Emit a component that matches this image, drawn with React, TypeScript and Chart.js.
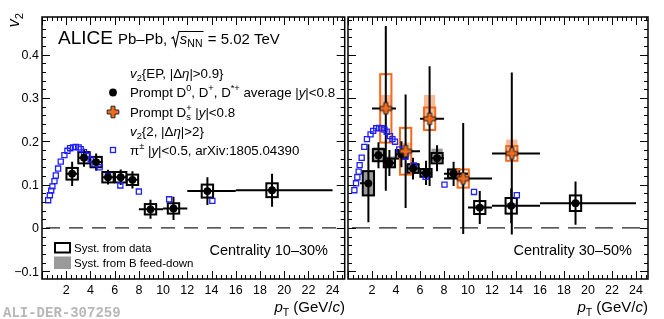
import React, { useEffect, useRef } from "react";
import { Chart, registerables } from "chart.js";
Chart.register(...registerables);

const FONT = '"Liberation Sans", Arial, Helvetica, sans-serif';
const MONO = '"Liberation Mono", "DejaVu Sans Mono", monospace';
const ORANGE = "#f26a1b";
const ORANGE_FILL = "rgba(245,120,50,0.5)";
const GRAY_FILL = "#9a9a9a";
const BLUE = "#1f1fff";

// ---------- axes ----------
const X_MIN = 0;
const X_MAX = 25;
const Y_MIN = -0.118;
const Y_MAX = 0.487;
const X_TICKS = [2, 4, 6, 8, 10, 12, 14, 16, 18, 20, 22, 24];
const X_TICK_LABELS = ["2", "4", "6", "8", "10", "12", "14", "16", "18", "20", "22", "24"];
const Y_TICKS = [-0.1, 0, 0.1, 0.2, 0.3, 0.4];
const Y_TICK_LABELS = ["\u22120.1", "0", "0.1", "0.2", "0.3", "0.4"];

// ---------- Centrality 10-30% ----------
const D1030_PT = [2.49, 3.47, 4.47, 5.45, 6.5, 7.47, 8.96, 10.86, 13.66, 19.0];
const D1030_PT_LOW = [2, 3, 4, 5, 6, 7, 8, 10, 12, 16];
const D1030_PT_HIGH = [3, 4, 5, 6, 7, 8, 10, 12, 16, 24];
const D1030_V2 = [0.125, 0.162, 0.152, 0.117, 0.117, 0.111, 0.043, 0.045, 0.085, 0.087];
const D1030_STAT = [0.028, 0.021, 0.02, 0.017, 0.018, 0.02, 0.022, 0.027, 0.032, 0.038];
const D1030_SYST = [0.0135, 0.013, 0.012, 0.012, 0.012, 0.012, 0.012, 0.012, 0.015, 0.016];

const PI1030_PT = [0.51, 0.65, 0.76, 0.86, 1.03, 1.14, 1.33, 1.55, 1.85, 2.1, 2.32, 2.57, 2.79, 3.03, 3.2, 3.47, 3.75, 4.02, 4.35, 4.76, 5.45, 6.47, 8.0, 10.5, 14.07];
const PI1030_V2 = [0.064, 0.0755, 0.086, 0.096, 0.108, 0.121, 0.137, 0.153, 0.168, 0.178, 0.184, 0.186, 0.187, 0.186, 0.182, 0.175, 0.167, 0.158, 0.148, 0.14, 0.12, 0.098, 0.084, 0.066, 0.0625];

// ---------- Centrality 30-50% ----------
const D3050_PT = [1.7, 2.54, 3.45, 4.45, 5.42, 6.5, 7.42, 8.8, 10.98, 13.6, 18.96];
const D3050_PT_LOW = [1, 2, 3, 4, 5, 6, 7, 8, 10, 12, 16];
const D3050_PT_HIGH = [2, 3, 4, 5, 6, 7, 8, 10, 12, 16, 24];
const D3050_V2 = [0.103, 0.168, 0.15, 0.17, 0.137, 0.127, 0.161, 0.125, 0.047, 0.051, 0.057];
const D3050_STAT = [0.09, 0.03, 0.03, 0.03, 0.025, 0.028, 0.03, 0.028, 0.038, 0.04, 0.05];
const D3050_SYST = [0.028, 0.014, 0.01, 0.01, 0.01, 0.009, 0.012, 0.01, 0.015, 0.018, 0.018];
const D3050_FD_LOW = [0.028, 0.016, 0.012, 0.01, 0.01, 0.008, 0.01, 0.008, 0.004, 0.004, 0.003];
const D3050_FD_HIGH = [0.03, 0.018, 0.015, 0.012, 0.012, 0.01, 0.022, 0.012, 0.006, 0.006, 0.004];

const DS3050_PT = [3.15, 4.8, 6.8, 9.6, 13.65];
const DS3050_PT_LOW = [2, 4, 6, 8, 12];
const DS3050_PT_HIGH = [4, 6, 8, 12, 16];
const DS3050_V2 = [0.276, 0.177, 0.252, 0.114, 0.172];
const DS3050_STAT_LOW = [0.19, 0.131, 0.155, 0.128, 0.187];
const DS3050_STAT_HIGH = [0.19, 0.131, 0.121, 0.128, 0.187];
const DS3050_SYST = [0.079, 0.054, 0.026, 0.021, 0.017];
const DS3050_FD_LOW = [0.01, 0.012, 0.005, 0.01, 0.008];
const DS3050_FD_HIGH = [0.031, 0.02, 0.055, 0.015, 0.032];

const PI3050_PT = [0.53, 0.67, 0.78, 0.89, 0.97, 1.14, 1.36, 1.58, 1.88, 2.1, 2.35, 2.6, 2.81, 3.04, 3.23, 3.5, 3.7, 3.92, 4.27, 4.8, 5.49, 6.47, 8.04, 10.5, 14.07];
const PI3050_V2 = [0.087, 0.103, 0.117, 0.13, 0.145, 0.162, 0.187, 0.205, 0.216, 0.224, 0.23, 0.231, 0.23, 0.227, 0.222, 0.212, 0.205, 0.199, 0.181, 0.165, 0.144, 0.118, 0.1, 0.083, 0.0755];

// ---------- text helpers ----------
type Seg = { t: string; i?: boolean; sub?: boolean; sup?: boolean; stackSup?: string; stackSub?: string };

function fnt(size: number, italic = false) {
  return `${italic ? "italic " : ""}${size}px ${FONT}`;
}

function measureSegs(ctx: CanvasRenderingContext2D, segs: Seg[], size: number) {
  return segs.map((s) => {
    if (s.stackSup !== undefined) {
      ctx.font = fnt(size * 0.7);
      return Math.max(ctx.measureText(s.stackSup).width, ctx.measureText(s.stackSub || "").width);
    }
    ctx.font = fnt(s.sub || s.sup ? size * 0.7 : size, s.i);
    return ctx.measureText(s.t).width;
  });
}

function drawRich(ctx: CanvasRenderingContext2D, segs: Seg[], x: number, baseline: number, size: number, align = "left", color = "#000") {
  const ws = measureSegs(ctx, segs, size);
  const total = ws.reduce((a, b) => a + b, 0);
  let cx = align === "right" ? x - total : align === "center" ? x - total / 2 : x;
  ctx.fillStyle = color;
  ctx.textAlign = "left";
  ctx.textBaseline = "alphabetic";
  segs.forEach((s, k) => {
    if (s.stackSup !== undefined) {
      ctx.font = fnt(size * 0.7);
      ctx.fillText(s.stackSup, cx, baseline - size * 0.42);
      ctx.fillText(s.stackSub || "", cx, baseline + size * 0.25);
    } else {
      ctx.font = fnt(s.sub || s.sup ? size * 0.7 : size, s.i);
      const dy = s.sub ? size * 0.25 : s.sup ? -size * 0.42 : 0;
      ctx.fillText(s.t, cx, baseline + dy);
    }
    cx += ws[k];
  });
  return total;
}

function makeCross(): HTMLCanvasElement {
  const c = document.createElement("canvas");
  c.width = 14;
  c.height = 14;
  const g = c.getContext("2d")!;
  const cx = 7, cy = 7, L = 5.8, T = 2.0;
  g.beginPath();
  g.moveTo(cx - T, cy - L); g.lineTo(cx + T, cy - L); g.lineTo(cx + T, cy - T); g.lineTo(cx + L, cy - T);
  g.lineTo(cx + L, cy + T); g.lineTo(cx + T, cy + T); g.lineTo(cx + T, cy + L); g.lineTo(cx - T, cy + L);
  g.lineTo(cx - T, cy + T); g.lineTo(cx - L, cy + T); g.lineTo(cx - L, cy - T); g.lineTo(cx - T, cy - T);
  g.closePath();
  g.fillStyle = ORANGE;
  g.fill();
  g.strokeStyle = "#222";
  g.lineWidth = 1;
  g.stroke();
  return c;
}

type Series = {
  pt: number[]; lo: number[]; hi: number[]; v2: number[];
  statLo: number[]; statHi: number[]; syst: number[];
  fdLo?: number[]; fdHi?: number[];
};

type PanelDef = {
  offsetX: number;
  width: number;
  padding: { left: number; right: number; top: number; bottom: number };
  d: Series;
  ds?: Series;
  piPt: number[];
  piV2: number[];
  showY: boolean;
  main: boolean;
  centrality: string;
  centralityRight: number;
  titleRight: number;
  dash: number[];
};

const BOX_HW = 0.47;

function makePlugin(P: PanelDef, cross: HTMLCanvasElement) {
  return {
    id: "panel",
    beforeDatasetsDraw(chart: any) {
      const { ctx, chartArea: a, scales } = chart;
      const x = scales.x, y = scales.y;
      ctx.save();
      ctx.beginPath();
      ctx.rect(a.left, a.top, a.right - a.left, a.bottom - a.top);
      ctx.clip();
      // zero line
      ctx.strokeStyle = "#222";
      ctx.lineWidth = 1.2;
      ctx.setLineDash(P.dash);
      ctx.beginPath();
      const y0 = y.getPixelForValue(0);
      ctx.moveTo(a.left + 4, y0);
      ctx.lineTo(a.right, y0);
      ctx.stroke();
      ctx.setLineDash([]);

      const boxes = (S: Series, fdFill: string | null, stroke: string) => {
        S.pt.forEach((p, k) => {
          const xl = x.getPixelForValue(p - BOX_HW), xr = x.getPixelForValue(p + BOX_HW);
          if (fdFill && S.fdLo && S.fdHi) {
            const yt = y.getPixelForValue(S.v2[k] + S.fdHi[k]);
            const yb = y.getPixelForValue(S.v2[k] - S.fdLo[k]);
            ctx.fillStyle = fdFill;
            ctx.fillRect(xl, yt, xr - xl, yb - yt);
          }
        });
        S.pt.forEach((p, k) => {
          const xl = x.getPixelForValue(p - BOX_HW), xr = x.getPixelForValue(p + BOX_HW);
          const yt = y.getPixelForValue(S.v2[k] + S.syst[k]);
          const yb = y.getPixelForValue(S.v2[k] - S.syst[k]);
          ctx.strokeStyle = stroke;
          ctx.lineWidth = 2;
          ctx.strokeRect(xl, yt, xr - xl, yb - yt);
        });
      };
      const errs = (S: Series) => {
        ctx.strokeStyle = "#000";
        ctx.lineWidth = 2;
        S.pt.forEach((p, k) => {
          const py = y.getPixelForValue(S.v2[k]);
          const px = x.getPixelForValue(p);
          ctx.beginPath();
          ctx.moveTo(x.getPixelForValue(S.lo[k]), py);
          ctx.lineTo(x.getPixelForValue(S.hi[k]), py);
          ctx.moveTo(px, y.getPixelForValue(S.v2[k] + S.statHi[k]));
          ctx.lineTo(px, y.getPixelForValue(S.v2[k] - S.statLo[k]));
          ctx.stroke();
        });
      };
      boxes(P.d, GRAY_FILL, "#000");
      if (P.ds) boxes(P.ds, ORANGE_FILL, ORANGE);
      errs(P.d);
      if (P.ds) errs(P.ds);
      ctx.restore();
    },
    afterDraw(chart: any) {
      const { ctx, chartArea: a, scales } = chart;
      const x = scales.x, y = scales.y;
      ctx.save();
      // frame
      ctx.strokeStyle = "#000";
      ctx.lineWidth = 1.5;
      ctx.strokeRect(a.left, a.top, a.right - a.left, a.bottom - a.top);
      ctx.lineWidth = 1;
      ctx.beginPath();
      for (let k = 0; k <= Math.round((X_MAX - X_MIN) / 0.4); k++) {
        const v = X_MIN + k * 0.4;
        if (v > X_MAX + 1e-9) break;
        const major = Math.abs(v / 2 - Math.round(v / 2)) < 1e-6;
        const L = major ? 8 : 4;
        const px = Math.round(x.getPixelForValue(v)) + 0.5;
        ctx.moveTo(px, a.bottom); ctx.lineTo(px, a.bottom - L);
        ctx.moveTo(px, a.top); ctx.lineTo(px, a.top + L);
      }
      const yStart = Math.ceil(Y_MIN / 0.02 - 1e-9);
      const yEnd = Math.floor(Y_MAX / 0.02 + 1e-9);
      for (let k = yStart; k <= yEnd; k++) {
        const v = k * 0.02;
        const major = k % 5 === 0;
        const L = major ? 8 : 4;
        const py = Math.round(y.getPixelForValue(v)) + 0.5;
        ctx.moveTo(a.left, py); ctx.lineTo(a.left + L, py);
        ctx.moveTo(a.right, py); ctx.lineTo(a.right - L, py);
      }
      ctx.stroke();

      // tick labels
      ctx.fillStyle = "#000";
      ctx.font = fnt(12.5);
      ctx.textAlign = "center";
      ctx.textBaseline = "alphabetic";
      X_TICKS.forEach((v, k) => ctx.fillText(X_TICK_LABELS[k], x.getPixelForValue(v), 294));
      if (P.showY) {
        ctx.textAlign = "right";
        Y_TICKS.forEach((v, k) => ctx.fillText(Y_TICK_LABELS[k], a.left - 3, y.getPixelForValue(v) + 4.5));
      }

      // absolute-coordinate texts
      ctx.translate(-P.offsetX, 0);
      drawRich(ctx, [{ t: "p", i: true }, { t: "T", sub: true }, { t: " (GeV/" }, { t: "c", i: true }, { t: ")" }], P.titleRight, 312, 15, "right");
      drawRich(ctx, [{ t: P.centrality }], P.centralityRight, 254.5, 14.5, "right");

      if (P.main) {
        // y title, rotated
        ctx.save();
        ctx.translate(19, 13);
        ctx.rotate(-Math.PI / 2);
        drawRich(ctx, [{ t: "v", i: true }, { t: "2", sub: true }], 0, 0, 16, "right");
        ctx.restore();

        // header
        drawRich(ctx, [{ t: "ALICE" }], 58, 43.5, 19);
        const bl = 43.5, hs = 15;
        const w1 = drawRich(ctx, [{ t: "Pb\u2013Pb, " }], 118, bl, hs);
        const rx = 118 + w1;
        const sx = rx + 8.5;
        const ws = drawRich(ctx, [{ t: "s", i: true }, { t: "NN", sub: true }], sx, bl, hs);
        const ex = sx + ws + 1;
        ctx.strokeStyle = "#000";
        ctx.lineWidth = 1.1;
        ctx.beginPath();
        ctx.moveTo(rx, bl - 5);
        ctx.lineTo(rx + 2, bl - 6.5);
        ctx.lineTo(rx + 4.2, bl + 2.5);
        ctx.lineTo(rx + 7.5, bl - 12);
        ctx.lineTo(ex, bl - 12);
        ctx.stroke();
        drawRich(ctx, [{ t: " = 5.02 TeV" }], ex, bl, hs);

        // legend
        const ls = 13.3, lx = 130;
        drawRich(ctx, [{ t: "v", i: true }, { t: "2", sub: true }, { t: "{EP, |\u0394" }, { t: "\u03b7", i: true }, { t: "|>0.9}" }], lx, 78, ls);
        drawRich(ctx, [{ t: "Prompt D" }, { t: "0", sup: true }, { t: ", D" }, { t: "+", sup: true }, { t: ", D" }, { t: "*+", sup: true }, { t: " average |" }, { t: "y", i: true }, { t: "|<0.8" }], lx, 97, ls);
        drawRich(ctx, [{ t: "Prompt D" }, { t: "", stackSup: "+", stackSub: "s" }, { t: " |" }, { t: "y", i: true }, { t: "|<0.8" }], lx, 116.5, ls);
        drawRich(ctx, [{ t: "v", i: true }, { t: "2", sub: true }, { t: "{2, |\u0394" }, { t: "\u03b7", i: true }, { t: "|>2}" }], lx, 136, ls);
        drawRich(ctx, [{ t: "\u03c0" }, { t: "\u00b1", sup: true }, { t: " |" }, { t: "y", i: true }, { t: "|<0.5, arXiv:1805.04390" }], lx, 154.5, ls);
        // legend markers
        ctx.fillStyle = "#000";
        ctx.beginPath();
        ctx.arc(113, 92.5, 3.9, 0, Math.PI * 2);
        ctx.fill();
        ctx.drawImage(cross, 113 - 7, 112 - 7);
        ctx.strokeStyle = BLUE;
        ctx.lineWidth = 1.3;
        ctx.strokeRect(110.5, 147.5, 5, 5);

        // syst legend
        ctx.strokeStyle = "#000";
        ctx.lineWidth = 2;
        ctx.strokeRect(55, 243, 15, 9.5);
        ctx.fillStyle = GRAY_FILL;
        ctx.fillRect(54, 256.5, 17, 12.5);
        drawRich(ctx, [{ t: "Syst. from data" }], 74, 251.5, 11.5);
        drawRich(ctx, [{ t: "Syst. from B feed-down" }], 74, 266.5, 11.5);

        // watermark
        ctx.font = `bold 14px ${MONO}`;
        ctx.fillStyle = "#b8b8b8";
        ctx.textAlign = "left";
        ctx.fillText("ALI-DER-307259", 3, 316.5);
      }
      ctx.restore();
    },
  };
}

const PANELS: PanelDef[] = [
  {
    offsetX: 0,
    width: 350,
    padding: { left: 42, right: 5, top: 17, bottom: 40 },
    d: { pt: D1030_PT, lo: D1030_PT_LOW, hi: D1030_PT_HIGH, v2: D1030_V2, statLo: D1030_STAT, statHi: D1030_STAT, syst: D1030_SYST },
    piPt: PI1030_PT,
    piV2: PI1030_V2,
    showY: true,
    main: true,
    centrality: "Centrality 10\u201330%",
    centralityRight: 328,
    titleRight: 345,
    dash: [14, 9],
  },
  {
    offsetX: 340,
    width: 324,
    padding: { left: 5, right: 16, top: 17, bottom: 40 },
    d: { pt: D3050_PT, lo: D3050_PT_LOW, hi: D3050_PT_HIGH, v2: D3050_V2, statLo: D3050_STAT, statHi: D3050_STAT, syst: D3050_SYST, fdLo: D3050_FD_LOW, fdHi: D3050_FD_HIGH },
    ds: { pt: DS3050_PT, lo: DS3050_PT_LOW, hi: DS3050_PT_HIGH, v2: DS3050_V2, statLo: DS3050_STAT_LOW, statHi: DS3050_STAT_HIGH, syst: DS3050_SYST, fdLo: DS3050_FD_LOW, fdHi: DS3050_FD_HIGH },
    piPt: PI3050_PT,
    piV2: PI3050_V2,
    showY: false,
    main: false,
    centrality: "Centrality 30\u201350%",
    centralityRight: 632,
    titleRight: 648,
    dash: [18, 9],
  },
];

function Panel({ def }: { def: PanelDef }) {
  const ref = useRef<HTMLCanvasElement>(null);
  useEffect(() => {
    if (!ref.current) return;
    const cross = makeCross();
    const datasets: any[] = [];
    if (def.ds) {
      datasets.push({
        data: def.ds.pt.map((p, k) => ({ x: p, y: def.ds!.v2[k] })),
        pointStyle: cross,
        pointRadius: 7,
      });
    }
    datasets.push({
      data: def.d.pt.map((p, k) => ({ x: p, y: def.d.v2[k] })),
      pointStyle: "circle",
      pointRadius: 3.9,
      backgroundColor: "#000",
      borderColor: "#000",
      borderWidth: 0,
    });
    datasets.push({
      data: def.piPt.map((p, k) => ({ x: p, y: def.piV2[k] })),
      pointStyle: "rect",
      pointRadius: 3.6,
      backgroundColor: "rgba(0,0,0,0)",
      borderColor: BLUE,
      borderWidth: 1.3,
    });
    const chart = new Chart(ref.current, {
      type: "scatter",
      data: { datasets },
      options: {
        responsive: false,
        animation: false,
        events: [],
        layout: { padding: def.padding },
        scales: {
          x: { type: "linear", min: X_MIN, max: X_MAX, display: false },
          y: { type: "linear", min: Y_MIN, max: Y_MAX, display: false },
        },
        plugins: { legend: { display: false }, tooltip: { enabled: false } },
      },
      plugins: [makePlugin(def, cross)],
    } as any);
    return () => chart.destroy();
  }, [def]);
  return (
    <canvas
      ref={ref}
      width={def.width}
      height={319}
      style={{ position: "absolute", left: def.offsetX, top: 0, width: def.width, height: 319 }}
    />
  );
}

export default function App() {
  return (
    <div style={{ position: "fixed", left: 0, top: 0, width: 664, height: 319, background: "#fff", overflow: "hidden" }}>
      {PANELS.map((p, k) => (
        <Panel key={k} def={p} />
      ))}
    </div>
  );
}
